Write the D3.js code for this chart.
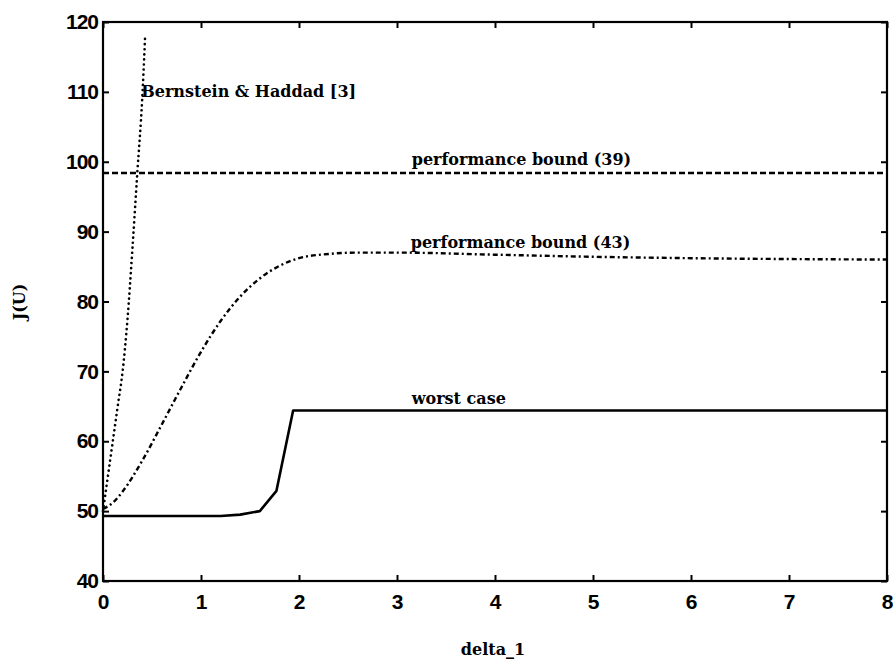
<!DOCTYPE html>
<html>
<head>
<meta charset="utf-8">
<script src="https://cdn.jsdelivr.net/npm/d3@7"></script>
<style>
  html, body { margin: 0; padding: 0; background: #fff; }
  svg { display: block; }
</style>
</head>
<body>
<svg id="chart" width="893" height="662"></svg>
<script>
// Cost J(U) against the uncertainty size delta_1
const xTicks = [0, 1, 2, 3, 4, 5, 6, 7, 8];
const yTicks = [40, 50, 60, 70, 80, 90, 100, 110, 120];

const bernsteinDelta = [0, 0.05, 0.1, 0.15, 0.2, 0.25, 0.3, 0.35, 0.4, 0.43];
const bernsteinJ     = [50, 55, 60, 65, 70, 77.5, 87.5, 98.4, 109, 118];

const bound39Delta = [0, 8];
const bound39J     = [98.4, 98.4];

const bound43Delta = [0, 0.1, 0.2, 0.4, 0.6, 0.8, 1.0, 1.2, 1.4, 1.6, 1.8, 2.0, 2.3, 2.6, 3.0, 4.0, 5.0, 6.0, 8.0];
const bound43J     = [50.3, 51.2, 52.8, 57.2, 62.4, 67.7, 72.8, 77.2, 80.7, 83.3, 85.1, 86.2, 86.8, 87.0, 87.0, 86.7, 86.4, 86.2, 86.0];

const worstDelta = [0, 1.2, 1.4, 1.6, 1.77, 1.94, 8];
const worstJ     = [49.3, 49.3, 49.5, 50.0, 52.9, 64.4, 64.4];

const labels = [
  { text: "Bernstein & Haddad [3]", x: 0.39, y: 109.3 },
  { text: "performance bound (39)", x: 3.15, y: 99.6 },
  { text: "performance bound (43)", x: 3.14, y: 87.7 },
  { text: "worst case", x: 3.15, y: 65.4 }
];

const svg = d3.select("#chart");
const plotLeft = 103, plotRight = 887, plotTop = 22, plotBottom = 581;

const x = d3.scaleLinear().domain([0, 8]).range([plotLeft, plotRight]);
const y = d3.scaleLinear().domain([40, 120]).range([plotBottom, plotTop]);

const tickFont = "'Liberation Sans', Arial, sans-serif";
const serif = "'DejaVu Serif', 'Liberation Serif', serif";

// frame with inward ticks on all four sides
const axisStroke = g => {
  g.select(".domain").remove();
  g.selectAll(".tick line").attr("stroke", "#000").attr("stroke-width", 2);
  g.selectAll(".tick text").attr("fill", "#000");
};

svg.append("g")
  .attr("transform", `translate(0,${plotBottom})`)
  .call(d3.axisBottom(x).tickValues(xTicks).tickSize(-6).tickPadding(13).tickFormat(d3.format("d")))
  .call(axisStroke)
  .call(g => g.selectAll(".tick text")
    .attr("font-family", tickFont).attr("font-weight", "bold").attr("font-size", 21));

svg.append("g")
  .attr("transform", `translate(${plotLeft},0)`)
  .call(d3.axisLeft(y).tickValues(yTicks).tickSize(-6).tickPadding(5).tickFormat(d3.format("d")))
  .call(axisStroke)
  .call(g => g.selectAll(".tick text")
    .attr("font-family", tickFont).attr("font-weight", "bold").attr("font-size", 21)
    .attr("letter-spacing", -1));

svg.append("g")
  .attr("transform", `translate(0,${plotTop})`)
  .call(d3.axisTop(x).tickValues(xTicks).tickSize(-6).tickFormat(""))
  .call(axisStroke);

svg.append("g")
  .attr("transform", `translate(${plotRight},0)`)
  .call(d3.axisRight(y).tickValues(yTicks).tickSize(-6).tickFormat(""))
  .call(axisStroke);

svg.append("rect")
  .attr("x", plotLeft).attr("y", plotTop)
  .attr("width", plotRight - plotLeft).attr("height", plotBottom - plotTop)
  .attr("fill", "none").attr("stroke", "#000").attr("stroke-width", 2.2);

// curves
const zip = (xs, ys) => xs.map((d, i) => [d, ys[i]]);
const smooth = d3.line().x(d => x(d[0])).y(d => y(d[1])).curve(d3.curveMonotoneX);
const straight = d3.line().x(d => x(d[0])).y(d => y(d[1]));

const plot = svg.append("g").attr("fill", "none").attr("stroke", "#000");

plot.append("path")
  .attr("d", straight(zip(worstDelta, worstJ)))
  .attr("stroke-width", 2.6)
  .attr("stroke-linejoin", "round");

plot.append("path")
  .attr("d", straight(zip(bound39Delta, bound39J)))
  .attr("stroke-width", 2.4)
  .attr("stroke-dasharray", "6,3");

plot.append("path")
  .attr("d", smooth(zip(bound43Delta, bound43J)))
  .attr("stroke-width", 2.4)
  .attr("stroke-dasharray", "5,3,2,3");

plot.append("path")
  .attr("d", smooth(zip(bernsteinDelta, bernsteinJ)))
  .attr("stroke-width", 2.6)
  .attr("stroke-linecap", "round")
  .attr("stroke-dasharray", "0.1,5");

// curve annotations
svg.append("g").selectAll("text")
  .data(labels)
  .join("text")
  .attr("x", d => x(d.x))
  .attr("y", d => y(d.y))
  .attr("font-family", serif)
  .attr("font-weight", "bold")
  .attr("font-size", 16)
  .attr("fill", "#000")
  .text(d => d.text);

// axis titles
svg.append("text")
  .attr("x", 493).attr("y", 655)
  .attr("text-anchor", "middle")
  .attr("font-family", serif).attr("font-weight", "bold").attr("font-size", 16)
  .text("delta_1");

svg.append("text")
  .attr("transform", "translate(25,302) rotate(-90)")
  .attr("text-anchor", "middle")
  .attr("font-family", serif).attr("font-weight", "bold").attr("font-size", 16)
  .text("J(U)");
</script>
</body>
</html>
